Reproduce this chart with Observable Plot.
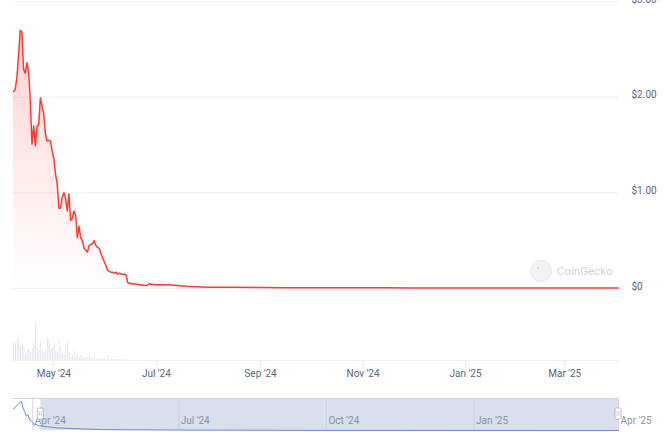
<!DOCTYPE html>
<html><head><meta charset="utf-8">
<script src="https://cdn.jsdelivr.net/npm/d3@7"></script>
<script src="https://cdn.jsdelivr.net/npm/@observablehq/plot@0.6"></script>
<style>
body{margin:0;background:#fff;}
#wrap{position:relative;width:665px;height:441px;overflow:hidden;font-family:Roboto,sans-serif;}
#wrap svg{position:absolute;left:0;background:transparent;}
</style></head><body><div id="wrap"></div>
<script>
// ---- main price series ----
const priceDates = ["2024-04-07","2024-04-08","2024-04-09","2024-04-10","2024-04-11","2024-04-12","2024-04-13","2024-04-14","2024-04-15","2024-04-16","2024-04-17","2024-04-18","2024-04-19","2024-04-20","2024-04-21","2024-04-22","2024-04-23","2024-04-24","2024-04-25","2024-04-26","2024-04-27","2024-04-28","2024-04-29","2024-04-30","2024-05-01","2024-05-02","2024-05-03","2024-05-04","2024-05-05","2024-05-06","2024-05-07","2024-05-08","2024-05-09","2024-05-10","2024-05-11","2024-05-12","2024-05-13","2024-05-14","2024-05-15","2024-05-16","2024-05-17","2024-05-18","2024-05-19","2024-05-20","2024-05-21","2024-05-22","2024-05-23","2024-05-24","2024-05-25","2024-05-26","2024-05-27","2024-05-28","2024-05-29","2024-05-30","2024-05-31","2024-06-01","2024-06-02","2024-06-03","2024-06-04","2024-06-05","2024-06-06","2024-06-07","2024-06-08","2024-06-09","2024-06-10","2024-06-11","2024-06-12","2024-06-13","2024-06-14","2024-06-15","2024-06-16","2024-06-17","2024-06-19","2024-06-21","2024-06-23","2024-06-25","2024-06-26","2024-06-27","2024-06-28","2024-06-30","2024-07-03","2024-07-06","2024-07-10","2024-07-15","2024-07-20","2024-07-25","2024-08-01","2024-08-15","2024-09-01","2024-09-15","2024-10-01","2024-10-15","2024-11-01","2024-11-15","2024-12-01","2024-12-15","2025-01-01","2025-01-15","2025-02-01","2025-02-15","2025-03-01","2025-03-15","2025-04-02"];
const priceValues = [2.06,2.08,2.20,2.43,2.70,2.68,2.29,2.25,2.36,2.27,1.96,1.51,1.70,1.49,1.70,1.71,1.99,1.91,1.82,1.62,1.54,1.55,1.54,1.44,1.36,1.20,1.09,0.84,0.84,0.95,1.00,0.94,0.81,0.99,0.71,0.73,0.81,0.76,0.53,0.65,0.53,0.50,0.42,0.40,0.38,0.45,0.46,0.47,0.50,0.45,0.43,0.42,0.37,0.32,0.28,0.24,0.19,0.18,0.17,0.17,0.16,0.17,0.15,0.16,0.15,0.15,0.15,0.14,0.06,0.055,0.05,0.05,0.045,0.04,0.035,0.03,0.04,0.05,0.045,0.04,0.04,0.04,0.037,0.03,0.022,0.018,0.014,0.012,0.01,0.009,0.008,0.008,0.007,0.007,0.006,0.006,0.006,0.005,0.005,0.005,0.005,0.004,0.004];

// ---- daily volume (relative units) from 2024-04-07 ----
const volumeStart = "2024-04-07";
const volumeValues = [18,17,20,25,14,17,13,7,10,12,8,12,19,36,12,10,19,10,8,10,23,21,12,13,17,10,8,21,13,7,5,16,19,8,3,5,10,6,5,3,5,2,3,2,3,5,2,1,2,1,1,2,1,1,2,1,5,1,1,1,1,1,1,1,1,1,1,1];

// ---- navigator series ----
const navDates = ["2024-03-20","2024-03-21","2024-03-22","2024-03-23","2024-03-24","2024-03-25","2024-03-26","2024-03-27","2024-03-28","2024-03-29","2024-03-30","2024-03-31","2024-04-01","2024-04-02","2024-04-03","2024-04-04","2024-04-05","2024-04-10","2024-04-16","2024-04-26","2024-05-15","2024-07-01","2024-10-01","2025-01-01","2025-04-01"];
const navValues = [2.05,2.15,2.35,2.5,2.62,2.7,2.1,1.75,1.35,1.5,1.0,0.9,0.75,0.45,0.6,0.5,0.45,0.35,0.25,0.18,0.08,0.04,0.01,0.005,0.003];

// ---- ticks ----
const yTicks = [0, 1, 2, 3];
const xTickDates = ["2024-05-01","2024-07-01","2024-09-01","2024-11-01","2025-01-01","2025-03-01"];
const navTickDates = ["2024-04-01","2024-07-01","2024-10-01","2025-01-01","2025-04-01"];
const mainDomain = ["2024-04-07","2025-04-02"];
const navDomain = ["2024-03-20","2025-04-01"];
const navSelection = ["2024-04-06","2025-04-01"];

const P = (s) => new Date(s);
const price = priceDates.map((d, i) => ({date: P(d), value: priceValues[i]}));
const vol = volumeValues.map((v, i) => ({date: d3.utcDay.offset(P(volumeStart), i), value: v}));
const nav = navDates.map((d, i) => ({date: P(d), value: navValues[i]}));
const fmtM = d3.utcFormat("%b '%y");
const wrap = document.getElementById("wrap");

// ---- main chart ----
const main = Plot.plot({
  width: 665, height: 300,
  marginLeft: 13, marginRight: 47, marginTop: 1, marginBottom: 12,
  style: {fontSize: "10px", fontFamily: "Roboto, sans-serif", color: "#58667e", background: "transparent"},
  x: {type: "utc", domain: mainDomain.map(P), axis: null},
  y: {domain: [0, 3], axis: null},
  marks: [
    Plot.ruleY(yTicks, {stroke: "#eff1f4"}),
    Plot.areaY(price, {x: "date", y: "value", fill: "url(#pgrad)", curve: "linear"}),
    Plot.lineY(price, {x: "date", y: "value", stroke: "#ff3a33", strokeWidth: 1.5}),
    Plot.axisY(yTicks, {anchor: "right", label: null, tickSize: 0, tickPadding: 13, dy: -2,
      tickFormat: d => d === 0 ? "$0" : "$" + d.toFixed(2)})
  ]
});
main.style.top = "0px";
const ns = "http://www.w3.org/2000/svg";
const defs = document.createElementNS(ns, "defs");
defs.innerHTML = `<linearGradient id="pgrad" gradientUnits="userSpaceOnUse" x1="0" y1="1" x2="0" y2="288">
<stop offset="0" stop-color="#ff3a33" stop-opacity="0.25"/>
<stop offset="1" stop-color="#ff3a33" stop-opacity="0"/></linearGradient>`;
main.insertBefore(defs, main.firstChild);
// watermark
const wm = d3.select(main).append("g");
wm.append("circle").attr("cx", 541).attr("cy", 271).attr("r", 10.5).attr("fill", "#f3f3f3").attr("stroke", "#e8e8e8");
wm.append("circle").attr("cx", 538).attr("cy", 268).attr("r", 1.2).attr("fill", "#d8d8d8");
wm.append("text").attr("x", 557).attr("y", 275).attr("fill", "#d4d4d4").attr("text-anchor", "start")
  .attr("font-size", 11.5).attr("font-family", "Roboto, sans-serif").text("CoinGecko");
wrap.appendChild(main);

// ---- volume + x axis ----
const volPlot = Plot.plot({
  width: 665, height: 85,
  marginLeft: 13, marginRight: 47, marginTop: 20, marginBottom: 25,
  style: {fontSize: "10px", fontFamily: "Roboto, sans-serif", color: "#58667e", background: "transparent"},
  x: {type: "utc", domain: mainDomain.map(P)},
  y: {domain: [0, 40], axis: null},
  marks: [
    Plot.rectY(vol, {x: "date", y: "value", interval: d3.utcDay, fill: "#e4e7ed", insetLeft: 0.3, insetRight: 0.4}),
    Plot.ruleY([0], {stroke: "#eff1f4"}),
    Plot.axisX(xTickDates.map(P), {label: null, tickSize: 6, tickPadding: 3, stroke: "#e6e8ec", tickFormat: fmtM})
  ]
});
volPlot.style.top = "300px";
wrap.appendChild(volPlot);

// ---- navigator ----
const navTicks = navTickDates.map(P);
const navPlot = Plot.plot({
  width: 665, height: 51,
  marginLeft: 13, marginRight: 47, marginTop: 8, marginBottom: 11,
  style: {fontSize: "10px", fontFamily: "Roboto, sans-serif", color: "#8a93a3", background: "transparent", overflow: "visible"},
  x: {type: "utc", domain: navDomain.map(P), axis: null},
  y: {domain: [0, 3], axis: null},
  marks: [
    Plot.rect([navSelection.map(P)], {x1: d => d[0], x2: d => d[1], fill: "#d9dfec"}),
    Plot.ruleX(navTicks, {stroke: "#c6cee0", strokeOpacity: 0.8}),
    Plot.ruleY([3], {stroke: "#cdd4e3"}),
    Plot.lineY(nav, {x: "date", y: "value", stroke: "#6a8acb", strokeWidth: 1}),
    Plot.text(navTicks, {x: d => d, frameAnchor: "bottom", dy: -7, dx: 2, textAnchor: "start", text: fmtM, fill: "#8a93a3"})
  ]
});
navPlot.style.top = "390px";
const nx = navPlot.scale("x");
const hg = d3.select(navPlot).append("g");
for (const d of navSelection.map(P)) {
  const cx = nx.apply(d);
  hg.append("rect").attr("x", cx - 3).attr("y", 18).attr("width", 6).attr("height", 11).attr("rx", 1.5)
    .attr("fill", "#fff").attr("stroke", "#a9adb5").attr("stroke-width", 0.8);
  hg.append("line").attr("x1", cx - 1).attr("x2", cx - 1).attr("y1", 21).attr("y2", 26).attr("stroke", "#a9adb5").attr("stroke-width", 0.6);
  hg.append("line").attr("x1", cx + 1).attr("x2", cx + 1).attr("y1", 21).attr("y2", 26).attr("stroke", "#a9adb5").attr("stroke-width", 0.6);
}
wrap.appendChild(navPlot);
</script></body></html>
